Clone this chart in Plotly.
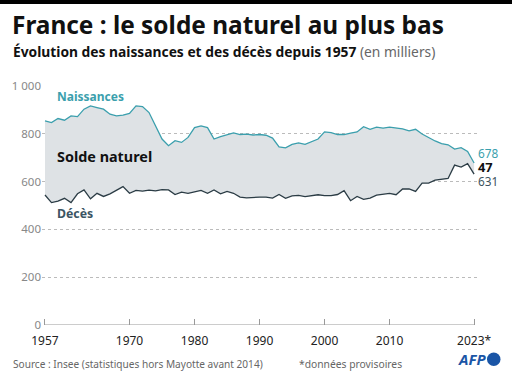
import plotly.graph_objects as go

years = list(range(1957, 2024))
naissances = [854, 847, 864, 857, 875, 872, 903, 917, 910, 903, 882, 875, 878, 885, 917, 914, 889, 833, 778, 750,
              771, 764, 785, 826, 833, 826, 778, 788, 796, 804, 797, 799, 795, 797, 794, 782, 745, 741, 756, 762,
              756, 766, 778, 808, 805, 797, 797, 803, 808, 830, 819, 828, 824, 828, 823, 821, 812, 819, 799, 784,
              770, 759, 754, 736, 742, 726, 678]
deces = [544, 512, 518, 530, 512, 549, 565, 528, 551, 538, 549, 563, 579, 551, 563, 560, 564, 561, 566, 565,
         546, 556, 551, 557, 563, 551, 565, 549, 559, 551, 535, 532, 535, 535, 535, 531, 546, 530, 540, 542,
         537, 540, 545, 541, 541, 546, 562, 520, 538, 526, 531, 543, 548, 551, 545, 569, 569, 559, 594, 594,
         606, 610, 613, 669, 661, 675, 631]
x_tickvals = [1957, 1970, 1980, 1990, 2000, 2010, 2023]
x_ticktext = ["1957", "1970", "1980", "1990", "2000", "2010", "2023*"]
y_tickvals = [0, 200, 400, 600, 800, 1000]
y_ticktext = ["0", "200", "400", "600", "800", "1 000"]

TEAL = "#3b9fad"
DARK = "#2b3c45"
FONT = "Noto Sans"

W, H = 512, 381
L, R, T, B = 42, 34, 86, 56
pw, ph = W - L - R, H - T - B


def px(x):
    return (x - L) / pw


def py(y):
    return (H - B - y) / ph


fig = go.Figure()
fig.add_trace(go.Scatter(x=years, y=deces, mode="lines", line=dict(color=DARK, width=1.3),
                         hoverinfo="skip", showlegend=False))
fig.add_trace(go.Scatter(x=years, y=naissances, mode="lines", line=dict(color=TEAL, width=1.3),
                         fill="tonexty", fillcolor="rgba(222,226,229,1)",
                         hoverinfo="skip", showlegend=False))

# bottom axis line
fig.add_shape(type="line", x0=years[0], x1=years[-1], y0=0, y1=0, xref="x", yref="y",
              line=dict(color="#999999", width=1.2))
# thin black band along the top edge
fig.add_shape(type="rect", xref="paper", yref="paper", x0=px(-2), x1=px(W + 2), y0=py(4), y1=py(-2),
              fillcolor="black", line=dict(width=0), opacity=1)
# AFP logo disc
fig.add_shape(type="circle", xref="paper", yref="paper", x0=px(487), x1=px(500.5), y0=py(352.5), y1=py(366),
              fillcolor="#1a55a6", line=dict(width=0))

annotations = [
    dict(x=1958.6, y=958, xref="x", yref="y", text="<b>Naissances</b>", showarrow=False,
         xanchor="left", yanchor="middle", font=dict(family=FONT, size=12, color=TEAL)),
    dict(x=1958.6, y=706, xref="x", yref="y", text="<b>Solde naturel</b>", showarrow=False,
         xanchor="left", yanchor="middle", font=dict(family=FONT, size=14.4, color="#111111")),
    dict(x=1958.6, y=467, xref="x", yref="y", text="<b>Décès</b>", showarrow=False,
         xanchor="left", yanchor="middle", font=dict(family=FONT, size=12.3, color="#3b5563")),
    # end-of-series labels (paper x so they are not hidden outside the axis range)
    dict(x=px(476), y=py(153), xref="paper", yref="paper", text=str(naissances[-1]), showarrow=False,
         xanchor="left", yanchor="middle", font=dict(family=FONT, size=11.8, color=TEAL)),
    dict(x=px(476), y=py(167), xref="paper", yref="paper",
         text="<b>%d</b>" % (naissances[-1] - deces[-1]), showarrow=False,
         xanchor="left", yanchor="middle", font=dict(family=FONT, size=12.8, color="#111111")),
    dict(x=px(476), y=py(181), xref="paper", yref="paper", text=str(deces[-1]), showarrow=False,
         xanchor="left", yanchor="middle", font=dict(family=FONT, size=11.8, color="#3d5360")),
    # title & subtitle
    dict(x=px(10), y=py(24), xref="paper", yref="paper", text="<b>France : le solde naturel au plus bas</b>",
         showarrow=False, xanchor="left", yanchor="middle", font=dict(family=FONT, size=24.4, color="#111111")),
    dict(x=px(11), y=py(52), xref="paper", yref="paper",
         text="<b>Évolution des naissances et des décès depuis 1957</b> <span style='color:#666666'>(en milliers)</span>",
         showarrow=False, xanchor="left", yanchor="middle", font=dict(family=FONT, size=13.8, color="#111111")),
    # footer
    dict(x=px(11), y=py(364), xref="paper", yref="paper",
         text="Source : Insee (statistiques hors Mayotte avant 2014)",
         showarrow=False, xanchor="left", yanchor="middle", font=dict(family=FONT, size=10.1, color="#666666")),
    dict(x=px(297), y=py(364), xref="paper", yref="paper", text="*données provisoires",
         showarrow=False, xanchor="left", yanchor="middle", font=dict(family=FONT, size=10.3, color="#666666")),
    dict(x=px(488), y=py(359), xref="paper", yref="paper", text="<b><i>AFP</i></b>",
         showarrow=False, xanchor="right", yanchor="middle", font=dict(family=FONT, size=15, color="#1a55a6")),
]

fig.update_layout(
    width=W, height=H,
    margin=dict(l=L, r=R, t=T, b=B, autoexpand=False),
    paper_bgcolor="white", plot_bgcolor="white",
    annotations=annotations,
    font=dict(family=FONT),
    xaxis=dict(range=[1956.54, 2023.6], tickvals=x_tickvals, ticktext=x_ticktext, automargin=False,
               showgrid=False, zeroline=False, showline=False,
               ticks="inside", ticklen=6, tickcolor="#999999", tickwidth=1, ticklabelstandoff=7,
               tickfont=dict(family=FONT, size=12, color="#222222")),
    yaxis=dict(range=[0, 1000], tickvals=y_tickvals, ticktext=y_ticktext, automargin=False,
               showgrid=True, gridcolor="#bbbbbb", griddash="dot", gridwidth=1,
               zeroline=False, showline=False, ticks="",
               tickfont=dict(family=FONT, size=11.5, color="#888888")),
)

# remove the browser's default page margin so the figure sits at the window's top-left corner
fig.write_html("out.html", config={"displayModeBar": False},
               post_script="document.body.style.margin='0';")
